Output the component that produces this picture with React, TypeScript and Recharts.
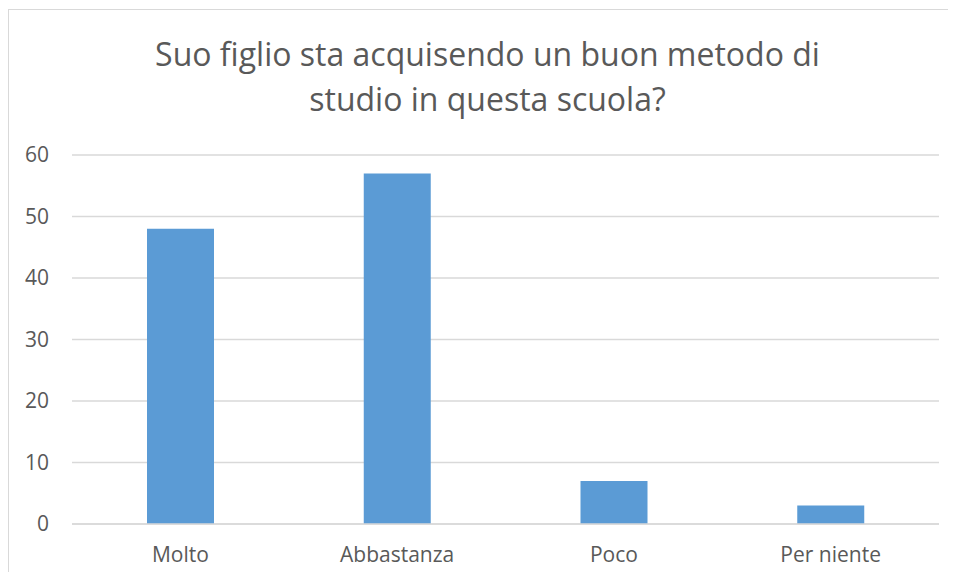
import { BarChart, Bar, XAxis, YAxis, CartesianGrid } from 'recharts';

const categories = ['Molto', 'Abbastanza', 'Poco', 'Per niente'];
const values = [48, 57, 7, 3];
const yTicks = [0, 10, 20, 30, 40, 50, 60];

const titleLines = ['Suo figlio sta acquisendo un buon metodo di', 'studio in questa scuola?'];

const data = categories.map((name, i) => ({ name, value: values[i] }));

const font = '"Open Sans", sans-serif';
const textColor = '#595959';

const App = () => {
  return (
    // clipped so the page never scrolls; the frame runs off the right/bottom edge
    <div
      style={{
        position: 'relative',
        width: 947,
        height: 562,
        overflow: 'hidden',
        borderTop: '1px solid #d9d9d9',
        borderLeft: '1px solid #d9d9d9',
        marginTop: 1,
        fontFamily: font,
      }}
    >
      <div
        style={{
          position: 'absolute',
          left: 18,
          top: 21,
          width: 921,
          textAlign: 'center',
          fontSize: 32,
          lineHeight: '45px',
          color: textColor,
        }}
      >
        {titleLines.map((l) => (
          <div key={l}>{l}</div>
        ))}
      </div>
      <BarChart
        width={947}
        height={570}
        data={data}
        margin={{ top: 145, right: 17, left: 0, bottom: 0 }}
      >
        <CartesianGrid vertical={false} stroke="#d9d9d9" strokeWidth={1.5} />
        <XAxis
          dataKey="name"
          height={56}
          axisLine={{ stroke: '#d9d9d9', strokeWidth: 1.5 }}
          tickLine={false}
          tickSize={0}
          tickMargin={23}
          tick={{ fill: textColor, fontSize: 21, fontFamily: font }}
        />
        <YAxis
          width={63}
          domain={[0, 60]}
          ticks={yTicks}
          axisLine={false}
          tickLine={false}
          tickSize={0}
          tickMargin={23}
          tick={{ fill: textColor, fontSize: 21, fontFamily: font }}
        />
        <Bar dataKey="value" fill="#5b9bd5" barSize={67} isAnimationActive={false} />
      </BarChart>
    </div>
  );
};

export default App;
